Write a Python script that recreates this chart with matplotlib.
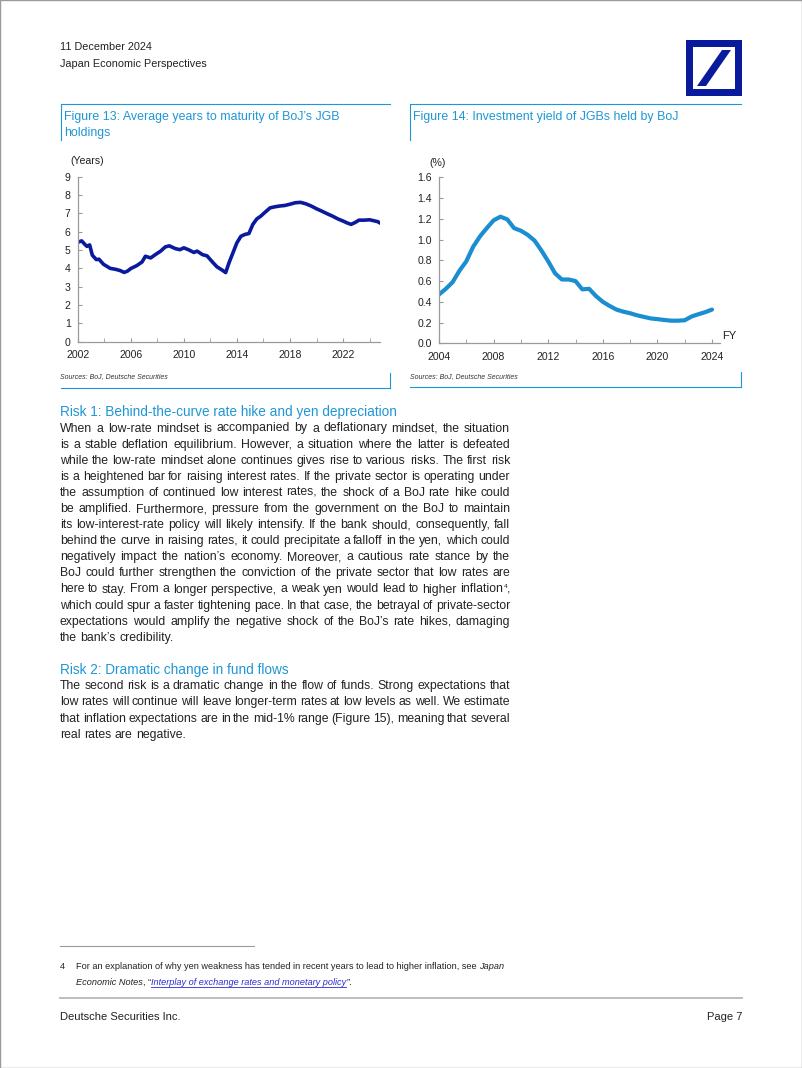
import matplotlib
matplotlib.use("Agg")
import matplotlib.pyplot as plt
from matplotlib.patches import Rectangle, Polygon
from matplotlib.lines import Line2D
from matplotlib.ticker import MultipleLocator, FormatStrFormatter

# ---- data: Figure 13, average years to maturity of BoJ JGB holdings
mat_years = [2002.0, 2002.3, 2002.55, 2002.7, 2002.9, 2003.1, 2003.4, 2003.6, 2003.95,
             2004.45, 2004.85, 2005.2, 2005.5, 2005.75, 2006.0, 2006.45, 2006.85, 2007.1,
             2007.5, 2007.85, 2008.25, 2008.6, 2008.9, 2009.35, 2009.7, 2010.0, 2010.4,
             2010.75, 2011.0, 2011.4, 2011.75, 2012.15, 2012.5, 2012.9, 2013.15, 2013.4,
             2013.7, 2014.0, 2014.3, 2014.6, 2014.9, 2015.2, 2015.5, 2015.8, 2016.1,
             2016.5, 2016.8, 2017.2, 2017.6, 2018.0, 2018.4, 2018.8, 2019.2, 2019.6,
             2020.0, 2020.4, 2020.8, 2021.2, 2021.6, 2022.0, 2022.3, 2022.6, 2022.9,
             2023.2, 2023.6, 2024.0, 2024.3, 2024.6, 2024.85]
mat_values = [5.42, 5.5, 5.3, 5.2, 5.28, 4.72, 4.48, 4.5, 4.22,
              4.0, 3.95, 3.88, 3.78, 3.85, 3.99, 4.15, 4.35, 4.66,
              4.57, 4.75, 4.94, 5.17, 5.23, 5.08, 5.02, 5.12, 5.0,
              4.87, 4.94, 4.75, 4.68, 4.35, 4.08, 3.9, 3.77, 4.3,
              4.85, 5.4, 5.75, 5.85, 5.9, 6.4, 6.7, 6.85, 7.05,
              7.3, 7.35, 7.4, 7.43, 7.5, 7.58, 7.6, 7.52, 7.4,
              7.25, 7.12, 6.98, 6.85, 6.7, 6.58, 6.48, 6.4, 6.5,
              6.63, 6.63, 6.65, 6.6, 6.55, 6.45]

# ---- data: Figure 14, investment yield of JGBs held by BoJ (%)
yld_years = [2004.0, 2004.5, 2005.0, 2005.5, 2006.0, 2006.5, 2007.0, 2007.5, 2008.0, 2008.5,
             2009.0, 2009.5, 2010.0, 2010.5, 2011.0, 2011.5, 2012.0, 2012.5, 2013.0, 2013.5,
             2014.0, 2014.5, 2015.0, 2015.5, 2016.0, 2016.5, 2017.0, 2017.5, 2018.0, 2018.5,
             2019.0, 2019.5, 2020.0, 2020.5, 2021.0, 2021.5, 2022.0, 2022.5, 2023.0, 2023.5,
             2024.0]
yld_values = [0.47, 0.525, 0.59, 0.70, 0.79, 0.93, 1.03, 1.11, 1.185, 1.22,
              1.195, 1.11, 1.085, 1.045, 0.99, 0.895, 0.79, 0.675, 0.615, 0.615,
              0.60, 0.52, 0.525, 0.455, 0.40, 0.36, 0.325, 0.305, 0.29, 0.27,
              0.255, 0.24, 0.233, 0.225, 0.218, 0.218, 0.222, 0.258, 0.28, 0.30,
              0.325]

para1 = [
    "When a low-rate mindset is accompanied by a deflationary mindset, the situation",
    "is a stable deflation equilibrium. However, a situation where the latter is defeated",
    "while the low-rate mindset alone continues gives rise to various risks. The first risk",
    "is a heightened bar for raising interest rates. If the private sector is operating under",
    "the assumption of continued low interest rates, the shock of a BoJ rate hike could",
    "be amplified. Furthermore, pressure from the government on the BoJ to maintain",
    "its low-interest-rate policy will likely intensify. If the bank should, consequently, fall",
    "behind the curve in raising rates, it could precipitate a falloff in the yen, which could",
    "negatively impact the nation\u2019s economy. Moreover, a cautious rate stance by the",
    "BoJ could further strengthen the conviction of the private sector that low rates are",
    "here to stay. From a longer perspective, a weak yen would lead to higher inflation ,",
    "which could spur a faster tightening pace. In that case, the betrayal of private-sector",
    "expectations would amplify the negative shock of the BoJ\u2019s rate hikes, damaging",
    "the bank\u2019s credibility.",
]
para2 = [
    "The second risk is a dramatic change in the flow of funds. Strong expectations that",
    "low rates will continue will leave longer-term rates at low levels as well. We estimate",
    "that inflation expectations are in the mid-1% range (Figure 15), meaning that several",
    "real rates are negative.",
]

DARK = "#0a1a9c"
LIGHT = "#1f97d4"
TXT = "#222222"
SANS = ["Liberation Sans", "DejaVu Sans"]

W, H = 802, 1068
fig = plt.figure(figsize=(W / 100, H / 100), dpi=100)
renderer = fig.canvas.get_renderer()


def fx(x):
    return x / W


def fy(y):
    return 1 - y / H


def put(x, y, s, **kw):
    return fig.text(fx(x), fy(y), s, **kw)


def hline(x0, x1, y, color, lw=0.8):
    fig.add_artist(Line2D([fx(x0), fx(x1)], [fy(y), fy(y)], color=color, lw=lw,
                          transform=fig.transFigure))


def vline(x, y0, y1, color, lw=0.8):
    fig.add_artist(Line2D([fx(x), fx(x)], [fy(y0), fy(y1)], color=color, lw=lw,
                          transform=fig.transFigure))


def width_of(s, **kw):
    t = fig.text(0, 0, s, **kw)
    w = t.get_window_extent(renderer).width
    t.remove()
    return w


X0, X1 = 60, 510

# pick body size so that the typical full line is a little narrower than the column
ref_w = sum(width_of(l, fontsize=10, family=SANS) for l in para1[:-1]) / (len(para1) - 1)
BODY = dict(fontsize=10 * 443 / ref_w, family=SANS, color=TXT)


def body_line(line, y, justify=True):
    words = line.split()
    widths = [width_of(w, **BODY) for w in words]
    if justify and len(words) > 1:
        gap = (X1 - X0 - sum(widths)) / (len(words) - 1)
    else:
        gap = width_of("a a", **BODY) - width_of("aa", **BODY)
    x = X0
    pos = {}
    for w, wd in zip(words, widths):
        put(x, y, w, va="baseline", ha="left", **BODY)
        pos[w] = (x, wd)
        x += wd + gap
    return pos


# page frame
fig.add_artist(Rectangle((0, 0), 1, 1, fill=False, edgecolor="#9a9a9a", lw=1,
                         transform=fig.transFigure))

# header
put(60, 47, "11 December 2024", fontsize=7.8, family=SANS, color=TXT, va="center")
put(60, 64, "Japan Economic Perspectives", fontsize=7.8, family=SANS, color=TXT, va="center")

# logo
fig.add_artist(Rectangle((fx(686), fy(96)), 56 / W, 56 / H, facecolor=DARK, edgecolor="none",
                         transform=fig.transFigure))
fig.add_artist(Rectangle((fx(693), fy(89)), 42 / W, 42 / H, facecolor="white", edgecolor="none",
                         transform=fig.transFigure))
fig.add_artist(Polygon([(fx(697), fy(86)), (fx(706), fy(86)), (fx(731), fy(50)), (fx(722), fy(50))],
                       closed=True, facecolor=DARK, edgecolor="none", transform=fig.transFigure))

# figure frames
hline(61, 390, 104, LIGHT)
vline(61, 104, 140, LIGHT)
hline(61, 390, 388, LIGHT)
vline(390, 373, 388, LIGHT)
hline(410, 741, 104, LIGHT)
vline(410, 104, 140, LIGHT)
hline(410, 741, 387, LIGHT)
vline(741, 372, 387, LIGHT)

TITLE = dict(fontsize=8.9, family=SANS, color=LIGHT, va="center")
put(64, 117, "Figure 13: Average years to maturity of BoJ\u2019s JGB", **TITLE)
put(64, 133, "holdings", **TITLE)
put(413, 117, "Figure 14: Investment yield of JGBs held by BoJ", **TITLE)

put(60, 377, "Sources: BoJ, Deutsche Securities", fontsize=5.0, family=SANS, style="italic",
    color="#333333", va="center")
put(410, 377, "Sources: BoJ, Deutsche Securities", fontsize=5.0, family=SANS, style="italic",
    color="#333333", va="center")


def style_axes(ax):
    for s in ("top", "right"):
        ax.spines[s].set_visible(False)
    for s in ("left", "bottom"):
        ax.spines[s].set_color("#9a9a9a")
        ax.spines[s].set_linewidth(0.9)
    ax.tick_params(which="both", direction="in", color="#9a9a9a", labelsize=7.6,
                   labelcolor=TXT, length=3)
    ax.tick_params(axis="y", pad=5)
    ax.tick_params(axis="x", pad=6)
    for lab in ax.get_xticklabels() + ax.get_yticklabels():
        lab.set_family(SANS)
    ax.set_facecolor("none")


# Figure 13
ax1 = fig.add_axes([fx(77.7), fy(341.7), (380 - 77.7) / W, (341.7 - 176.7) / H])
ax1.plot(mat_years, mat_values, color=DARK, lw=2.6, solid_joinstyle="round")
ax1.set_xlim(2002, 2002 + (380 - 77.7) / 13.27)
ax1.set_ylim(0, 9)
ax1.set_yticks(range(0, 10))
ax1.set_xticks(range(2002, 2023, 4))
ax1.xaxis.set_minor_locator(MultipleLocator(2))
style_axes(ax1)
put(70, 161, "(Years)", fontsize=7.6, family=SANS, color=TXT, va="center")

# Figure 14
ax2 = fig.add_axes([fx(439), fy(343.3), (720 - 439) / W, (343.3 - 177.3) / H])
ax2.plot(yld_years, yld_values, color="#1a8ed0", lw=3.0, solid_capstyle="round",
         solid_joinstyle="round")
ax2.set_xlim(2004, 2004 + (720 - 439) / 13.65)
ax2.set_ylim(0, 1.6)
ax2.set_yticks([0, 0.2, 0.4, 0.6, 0.8, 1.0, 1.2, 1.4, 1.6])
ax2.yaxis.set_major_formatter(FormatStrFormatter("%.1f"))
ax2.set_xticks(range(2004, 2025, 4))
ax2.xaxis.set_minor_locator(MultipleLocator(2))
style_axes(ax2)
put(429, 163, "(%)", fontsize=7.6, family=SANS, color=TXT, va="center")
put(722, 336, "FY", fontsize=8.0, family=SANS, color=TXT, va="center")

# body text
HEAD = dict(fontsize=9.8, family=SANS, color=LIGHT, va="baseline")
put(60, 416, "Risk 1: Behind-the-curve rate hike and yen depreciation", **HEAD)
for i, line in enumerate(para1):
    y = 431.5 + 16.1 * i
    pos = body_line(line, y, justify=(i < len(para1) - 1))
    if "inflation" in pos and "higher" in pos:
        x, wd = pos["inflation"]
        put(x + wd + 1, y - 4.5, "4", fontsize=4.6, family=SANS, color=TXT, va="baseline")

put(60, 674, "Risk 2: Dramatic change in fund flows", **HEAD)
for i, line in enumerate(para2):
    body_line(line, 689 + 16.3 * i, justify=(i < len(para2) - 1))

# footnote
hline(60, 254, 946, "#9a9a9a", lw=0.8)
FN = dict(fontsize=6.6, family=SANS, color=TXT, va="baseline")
put(60, 969, "4", **FN)
t = put(76, 969, "For an explanation of why yen weakness has tended in recent years to lead to higher inflation, see ", **FN)
w = t.get_window_extent(renderer).width
put(76 + w, 969, "Japan", style="italic", **FN)
t = put(76, 985, "Economic Notes", style="italic", **FN)
x = 76 + t.get_window_extent(renderer).width
t = put(x, 985, ", \u201c", **FN)
x += t.get_window_extent(renderer).width
link = put(x, 985, "Interplay of exchange rates and monetary policy", fontsize=6.6, family=SANS,
           color="#2b2bd6", style="italic", va="baseline")
lw_ = link.get_window_extent(renderer).width
hline(x, x + lw_, 986.5, "#2b2bd6", lw=0.6)
put(x + lw_, 985, "\u201d.", **FN)

# footer
hline(60, 742, 998, "#bdbdbd", lw=1.4)
put(60, 1017, "Deutsche Securities Inc.", fontsize=8.0, family=SANS, color=TXT, va="center")
put(742, 1017, "Page 7", fontsize=8.0, family=SANS, color=TXT, va="center", ha="right")

fig.savefig("out.png", dpi=100)
